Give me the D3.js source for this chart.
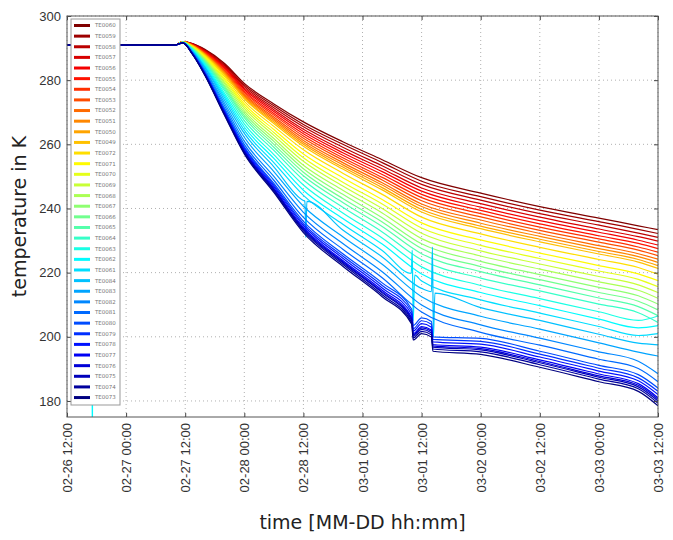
<!DOCTYPE html>
<html>
<head>
<meta charset="utf-8">
<script src="https://cdn.jsdelivr.net/npm/d3@7"></script>
<style>
body { margin: 0; background: #fff; }
svg { font-family: "DejaVu Sans", sans-serif; }
</style>
</head>
<body>
<div id="chart"></div>
<script>
// hours after 02-26 12:00
var hours = [0, 22, 23.5, 25.5, 28, 32, 36, 42, 48, 56, 64, 72, 84, 96, 108, 116, 120];

var sensors = ["TE0060","TE0059","TE0058","TE0057","TE0056","TE0055","TE0054","TE0053","TE0052","TE0051","TE0050","TE0049",
               "TE0072","TE0071","TE0070","TE0069","TE0068","TE0067","TE0066","TE0065","TE0064","TE0063","TE0062","TE0061",
               "TE0084","TE0083","TE0082","TE0081","TE0080","TE0079","TE0078","TE0077","TE0076","TE0075","TE0074","TE0073"];

var temps = [
  [291,291,292,291.4,289.6,285.2,279.0,272.6,267.0,260.8,255.2,249.6,244.8,240.6,237.0,234.6,233.4],
  [291,291,292,291.3,289.4,284.8,278.5,272.0,266.2,260.0,254.3,248.5,243.7,239.5,235.9,233.5,232.2],
  [291,291,292,291.3,289.2,284.5,278.0,271.4,265.5,259.1,253.3,247.5,242.6,238.4,234.8,232.3,231.0],
  [291,291,292,291.2,289.1,284.1,277.5,270.8,264.7,258.2,252.4,246.4,241.5,237.3,233.6,231.2,229.8],
  [291,291,292,291.1,288.9,283.8,277.1,270.2,264.0,257.4,251.5,245.4,240.4,236.2,232.6,230.1,228.6],
  [291,291,292,291.0,288.7,283.5,276.6,269.6,263.3,256.6,250.6,244.4,239.4,235.2,231.5,229.1,227.5],
  [291,291,292,291.0,288.6,283.1,276.2,269.1,262.6,255.8,249.7,243.4,238.4,234.2,230.5,228.0,226.4],
  [291,291,292,290.9,288.4,282.8,275.7,268.5,261.9,255.1,248.9,242.4,237.4,233.2,229.5,227.0,225.3],
  [291,291,292,290.8,288.2,282.5,275.3,268.0,261.2,254.3,248.0,241.4,236.4,232.2,228.4,225.9,224.2],
  [291,291,292,290.8,288.1,282.2,274.9,267.5,260.6,253.6,247.3,240.6,235.4,231.3,227.5,225.0,223.2],
  [291,291,292,290.7,288.0,281.9,274.5,267.0,260.0,252.9,246.5,239.7,234.5,230.4,226.6,224.1,222.2],
  [291,291,292,290.7,287.8,281.6,274.2,266.5,259.4,252.3,245.8,238.9,233.7,229.6,225.8,223.3,221.3],
  [291,291,291.8,290.5,287.6,281.1,273.4,265.6,258.3,251.0,244.4,237.3,232.1,227.9,224.1,221.6,219.5],
  [291,291,291.8,290.4,287.3,280.5,272.6,264.6,257.0,249.6,242.8,235.5,230.2,226.1,222.2,219.6,217.5],
  [291,291,291.8,290.3,287.0,280.0,271.9,263.7,255.8,248.2,241.4,233.9,228.5,224.4,220.5,217.9,215.6],
  [291,291,291.8,290.2,286.7,279.4,271.2,262.8,254.7,247.0,240.0,232.3,226.8,222.7,218.8,216.2,213.8],
  [291,291,291.8,290.1,286.4,278.9,270.4,261.8,253.5,245.7,238.6,230.6,225.2,221.1,217.1,214.5,212.0],
  [291,291,291.8,290.0,286.2,278.3,269.7,260.9,252.4,244.4,237.1,229.0,223.5,219.4,215.4,212.8,210.2],
  [291,291,291.8,289.9,285.9,277.8,269.0,260.0,251.3,243.1,235.8,227.5,221.9,217.8,213.8,211.1,208.4],
  [291,291,291.8,289.7,285.6,277.3,268.3,259.1,250.2,241.9,234.4,225.9,220.3,216.2,212.1,209.4,206.6],
  [291,291,291.8,289.6,285.3,276.7,267.4,258.1,248.9,240.4,232.7,224.0,218.3,214.3,210.2,207.5,204.5],
  [291,291,291.8,289.5,285.0,275.9,266.4,256.8,247.3,238.6,230.8,221.8,216.0,211.9,207.8,205.1,206.5],
  [291,291,291.8,289.3,284.6,275.2,265.4,255.6,245.7,236.9,228.9,219.6,213.8,209.7,205.5,202.8,203.5],
  [291,291,291.8,289.2,284.2,274.5,264.4,254.3,244.1,235.1,226.9,217.4,211.5,207.4,203.2,200.4,201.0],
  [291,291,291.6,289.0,283.9,273.7,263.4,253.0,242.5,233.3,224.9,215.1,209.1,205.1,200.8,198.0,197.5],
  [291,291,291.6,288.8,283.4,272.8,262.2,251.5,240.7,231.2,222.6,212.5,206.4,202.4,198.1,195.2,194.0],
  [291,291,291.6,288.6,283.0,272.0,261.0,250.0,238.8,229.1,220.3,209.9,203.7,199.6,195.3,192.4,188.5],
  [291,291,291.6,288.5,282.6,271.2,260.0,248.8,237.2,227.3,218.4,207.7,201.4,197.4,193.0,190.1,186.0],
  [291,291,291.6,288.3,282.3,270.6,259.2,247.8,236.0,225.9,216.8,205.9,199.5,195.5,191.1,188.2,184.0],
  [291,291,291.6,288.3,282.2,270.3,258.8,247.3,235.3,225.2,216.0,205.0,198.6,194.6,190.2,187.2,183.0],
  [291,291,291.6,288.2,282.0,270.0,258.4,246.8,234.7,224.5,215.2,204.1,197.7,193.7,189.3,186.3,182.0],
  [291,291,291.6,288.2,281.9,269.8,258.0,246.3,234.1,223.8,214.5,203.2,196.8,192.8,188.4,185.4,181.0],
  [291,291,291.6,288.1,281.8,269.6,257.8,246.0,233.7,223.4,214.0,202.8,196.3,192.3,187.8,184.9,180.5],
  [291,291,291.6,288.1,281.7,269.4,257.6,245.8,233.4,223.1,213.7,202.3,195.9,191.9,187.4,184.4,180.0],
  [291,291,291.6,288.0,281.6,269.2,257.3,245.4,233.0,222.6,213.1,201.7,195.3,191.3,186.8,183.8,179.3],
  [291,291,291.6,288.0,281.5,269.0,257.0,245.0,232.5,222.0,212.5,201.0,194.5,190.5,186.0,183.0,178.5]
];

// short spikes / dips seen in single sensors: [hour, temperature]
var spikes = {
  "TE0062": [[5.0, 291], [5.15, 150], [5.3, 291]],
  "TE0061": [[69.9, 219.8], [70.1, 227], [70.3, 205], [70.6, 219.2]],
  "TE0084": [[48.3, 242.3], [48.5, 231], [48.7, 242.2], [74.0, 214.1], [74.2, 228], [74.4, 200], [74.7, 213.6]],
  "TE0080": [[70, 208.6], [70.3, 203.5], [74, 204.8], [74.3, 200.0]],
  "TE0079": [[70, 207.8], [70.3, 202.5], [74, 203.9], [74.3, 199.2]],
  "TE0078": [[70, 206.9], [70.3, 201.8], [74, 203.0], [74.3, 198.4]],
  "TE0077": [[70, 206.0], [70.3, 201.0], [74, 202.1], [74.3, 197.6]],
  "TE0076": [[70, 205.6], [70.3, 200.6], [74, 201.7], [74.3, 197.2]],
  "TE0075": [[70, 205.2], [70.3, 200.2], [74, 201.2], [74.3, 196.8]],
  "TE0074": [[70, 204.5], [70.3, 199.6], [74, 200.6], [74.3, 196.2]],
  "TE0073": [[70, 203.9], [70.3, 199.0], [74, 199.9], [74.3, 195.5]]
};

var yTicks = [180, 200, 220, 240, 260, 280, 300];
var xTickHours = [0, 12, 24, 36, 48, 60, 72, 84, 96, 108, 120];

var start = new Date(Date.UTC(2015, 1, 26, 12));
function toDate(h) { return new Date(start.getTime() + h * 3600000); }

// matplotlib "jet"
function jet(t) {
  function c(v) { return Math.max(0, Math.min(1, v)); }
  var r = c(1.5 - Math.abs(4 * t - 3)), g = c(1.5 - Math.abs(4 * t - 2)), b = c(1.5 - Math.abs(4 * t - 1));
  return d3.rgb(r * 255, g * 255, b * 255).toString();
}

var W = 673, H = 540;
var m = { left: 67, right: 15, top: 16, bottom: 123 };
var iw = W - m.left - m.right, ih = H - m.top - m.bottom;

var svg = d3.select("#chart").append("svg").attr("width", W).attr("height", H);

var x = d3.scaleUtc().domain([toDate(0), toDate(120)]).range([0, iw]);
var y = d3.scaleLinear().domain([175, 300]).range([ih, 0]);

var g = svg.append("g").attr("transform", "translate(" + m.left + "," + m.top + ")");

svg.append("defs").append("clipPath").attr("id", "clip")
  .append("rect").attr("width", iw).attr("height", ih);

// grid
g.append("g").selectAll("line").data(yTicks).enter().append("line")
  .attr("x1", 0).attr("x2", iw).attr("y1", d => y(d)).attr("y2", d => y(d))
  .attr("stroke", "#b0b0b0").attr("stroke-dasharray", "1,3").attr("stroke-width", 1);
g.append("g").selectAll("line").data(xTickHours).enter().append("line")
  .attr("x1", d => x(toDate(d))).attr("x2", d => x(toDate(d))).attr("y1", 0).attr("y2", ih)
  .attr("stroke", "#b0b0b0").attr("stroke-dasharray", "1,3").attr("stroke-width", 1);

// series
var series = sensors.map(function(name, i) {
  var pts = hours.map(function(h, j) { return [h, temps[i][j]]; });
  if (spikes[name]) pts = pts.concat(spikes[name]);
  pts.sort(function(a, b) { return a[0] - b[0]; });
  return { name: name, color: jet(1 - i / (sensors.length - 1)), pts: pts };
});

var line = d3.line()
  .x(d => x(toDate(d[0])))
  .y(d => y(d[1]))
  .curve(d3.curveMonotoneX);

g.append("g").attr("clip-path", "url(#clip)")
  .selectAll("path").data(series).enter().append("path")
  .attr("d", d => line(d.pts))
  .attr("fill", "none")
  .attr("stroke", d => d.color)
  .attr("stroke-width", 1.2);

// axes
var yAxis = d3.axisLeft(y).tickValues(yTicks).tickSize(-4).tickPadding(6);
var xAxis = d3.axisBottom(x).tickValues(xTickHours.map(toDate))
  .tickFormat(d3.utcFormat("%m-%d %H:%M")).tickSize(-4).tickPadding(6);

var ya = g.append("g").call(yAxis);
var xa = g.append("g").attr("transform", "translate(0," + ih + ")").call(xAxis);
g.append("g").attr("transform", "translate(" + iw + ",0)")
  .call(d3.axisRight(y).tickValues(yTicks).tickSize(-4).tickFormat(""));
g.append("g").call(d3.axisTop(x).tickValues(xTickHours.map(toDate)).tickSize(-4).tickFormat(""));

g.selectAll(".domain").remove();
g.selectAll(".tick line").attr("stroke", "#444");
ya.selectAll("text").attr("font-size", 13).attr("fill", "#333");
xa.selectAll("text").attr("font-size", 13).attr("fill", "#333")
  .attr("transform", "rotate(-90)")
  .attr("text-anchor", "end")
  .attr("dx", "-6").attr("dy", "0.35em")
  .attr("x", 0).attr("y", 0);

g.append("rect").attr("width", iw).attr("height", ih)
  .attr("fill", "none").attr("stroke", "#555").attr("stroke-width", 1);

// legend
var lg = g.append("g").attr("transform", "translate(4,3)");
lg.append("rect").attr("width", 49).attr("height", 386)
  .attr("fill", "#fff").attr("stroke", "#999").attr("stroke-width", 1);
var item = lg.selectAll("g.item").data(series).enter().append("g")
  .attr("transform", (d, i) => "translate(0," + (6.5 + i * 10.63) + ")");
item.append("line").attr("x1", 3).attr("x2", 19).attr("y1", 0).attr("y2", 0)
  .attr("stroke", d => d.color).attr("stroke-width", 3);
item.append("text").attr("x", 24).attr("y", 0).attr("dy", "0.35em")
  .attr("font-size", 5.5).attr("fill", "#777").text(d => d.name);

// axis titles
svg.append("text").attr("x", m.left + iw / 2).attr("y", 529)
  .attr("text-anchor", "middle").attr("font-size", 19).attr("fill", "#222")
  .text("time [MM-DD hh:mm]");
svg.append("text").attr("transform", "translate(26," + (m.top + ih / 2) + ") rotate(-90)")
  .attr("text-anchor", "middle").attr("font-size", 19).attr("fill", "#222")
  .text("temperature in K");
</script>
</body>
</html>
